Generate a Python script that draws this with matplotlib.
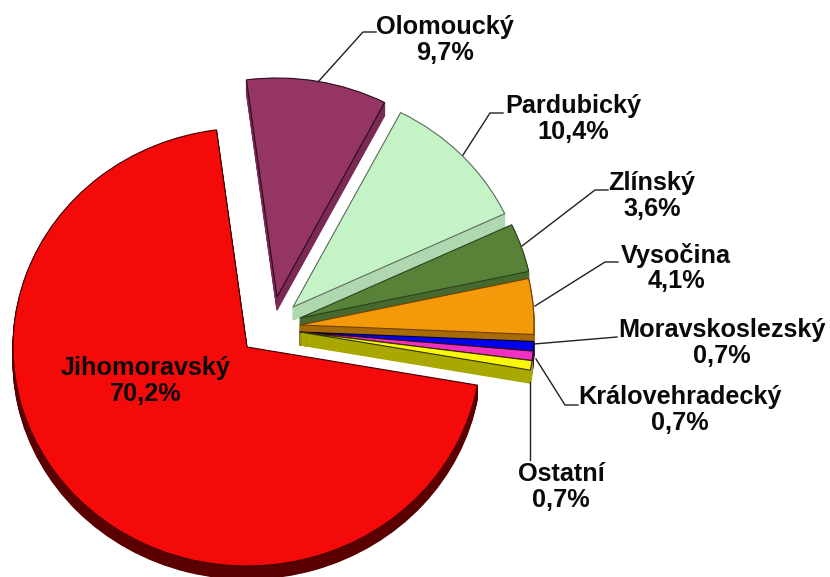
import matplotlib
matplotlib.use("Agg")
import matplotlib.pyplot as plt

plt.rcParams['font.family'] = ['Liberation Sans', 'DejaVu Sans']

# Data, in the order the slices go round the pie
names = ['Jihomoravský', 'Ostatní', 'Královehradecký', 'Moravskoslezský',
         'Vysočina', 'Zlínský', 'Pardubický', 'Olomoucký']
values = [70.2, 0.7, 0.7, 0.7, 4.1, 3.6, 10.4, 9.7]
top_colors = ['#f50a0a', '#f8f808', '#f030c0', '#0000f0',
              '#f49a0a', '#588238', '#c4f3c6', '#953564']
side_colors = ['#5a0000', '#a8a800', '#50103f', '#000050',
               '#a86a05', '#466a2e', '#b0d8b0', '#7a2a55']
edge_colors = ['#400000', '#303000', '#300020', '#000030',
               '#704000', '#2c401c', '#606a60', '#2a0a1c']

# Layout in reference pixels
W, H = 830, 577
cx, cy = 247, 347
rx, ry = 234, 219
depth = 13
apex_px = [(247, 347), (300, 332), (300, 332), (300, 332),
           (300, 325), (300, 318), (293, 307), (277, 297)]
label_px = [(146, 381), (561, 487), (680, 410), (722, 343),
            (676, 268), (652, 196), (573, 119), (445, 40)]
leaders_px = [None,
              [(530, 382), (530, 460)],
              [(536, 359), (565, 405), (578, 405)],
              [(534, 344), (617, 337)],
              [(535, 306), (605, 262), (618, 262)],
              [(522, 246), (595, 190), (608, 190)],
              [(463, 155), (490, 113), (503, 113)],
              [(318, 82), (363, 32), (376, 32)]]

fig = plt.figure(figsize=(W / 100, H / 100), dpi=100)
ax = fig.add_axes([0, 0, 1, 1])


def draw_layer(colors, shift, edges=None, lw=0.0, z_extra=0.0):
    wedges, _ = ax.pie(values, colors=colors, startangle=97.5, counterclock=True,
                       wedgeprops={'linewidth': lw, 'joinstyle': 'round'})
    for i, w in enumerate(wedges):
        px, py = apex_px[i]
        w.set_center(((px - cx) / rx, (cy - py - shift) / ry))
        # back slices first, front ones over them, red last
        w.set_zorder(8 - i + z_extra)
        if edges is not None:
            w.set_edgecolor(edges[i])
        else:
            w.set_edgecolor(colors[i])


# Side of the pie: same slices stacked downwards
for d in range(depth, 0, -1):
    draw_layer(side_colors, d, lw=0.9, z_extra=(depth - d) / (depth + 1) * 0.5)
draw_layer(top_colors, 0, edges=edge_colors, lw=0.8, z_extra=0.6)

ax.set_aspect('auto')
ax.set_xlim((0 - cx) / rx, (W - cx) / rx)
ax.set_ylim((cy - H) / ry, cy / ry)
ax.axis('off')

# Labels and leader lines
over = fig.add_axes([0, 0, 1, 1], facecolor='none')
over.set_xlim(0, W)
over.set_ylim(H, 0)
over.axis('off')
for i, name in enumerate(names):
    txt = name + '\n' + f'{values[i]:.1f}'.replace('.', ',') + '%'
    over.text(label_px[i][0], label_px[i][1], txt, ha='center', va='center',
              fontsize=18.2, fontweight='bold', color='#0a0a0a', linespacing=1.07)
    if leaders_px[i]:
        xs = [p[0] for p in leaders_px[i]]
        ys = [p[1] for p in leaders_px[i]]
        over.plot(xs, ys, color='#202020', lw=1.0)

fig.savefig('out.png', dpi=100)
